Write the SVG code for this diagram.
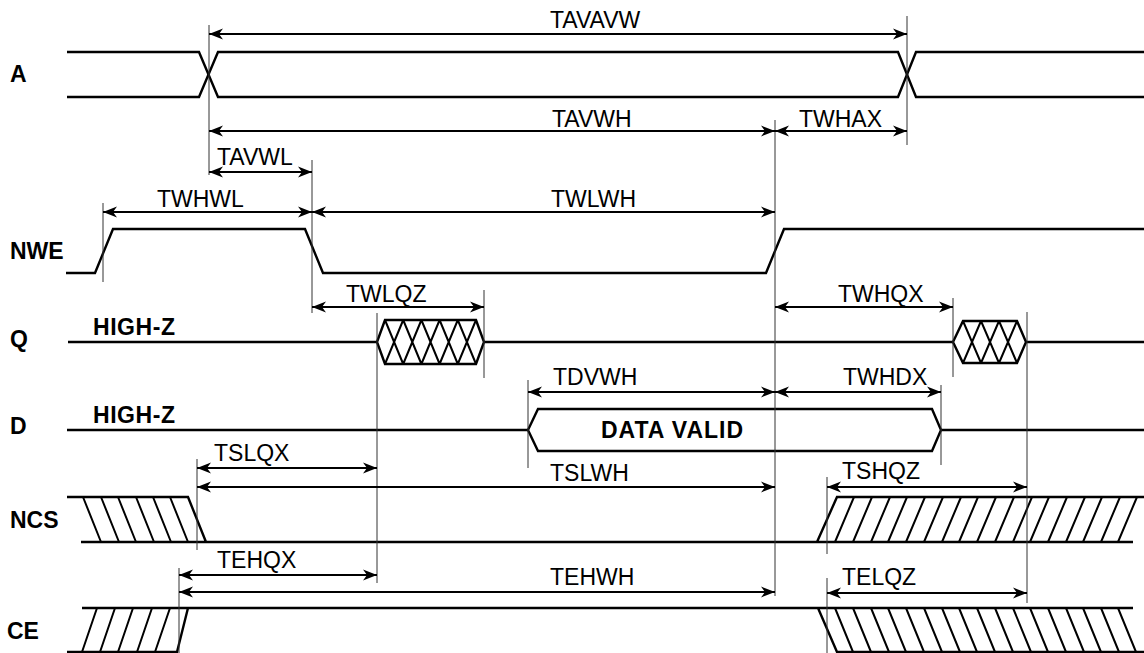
<svg xmlns="http://www.w3.org/2000/svg" width="1144" height="653" viewBox="0 0 1144 653">
<style>
.sig{fill:none;stroke:#000;stroke-width:2.4;stroke-linejoin:miter}
.hat{fill:none;stroke:#000;stroke-width:2}
.ref{fill:none;stroke:#333;stroke-width:1}
.dim{fill:none;stroke:#000;stroke-width:2;marker-start:url(#ah);marker-end:url(#ah)}
.lbl{font-family:"Liberation Sans",Arial,sans-serif;font-size:23px;fill:#000}
.name{font-family:"Liberation Sans",Arial,sans-serif;font-size:23px;font-weight:bold;fill:#000}
</style>
<defs>
<marker id="ah" viewBox="-15 -6 16 12" refX="0" refY="0" markerWidth="16" markerHeight="12" markerUnits="userSpaceOnUse" orient="auto-start-reverse">
<path d="M0,0 L-14,-5.5 L-10,0 L-14,5.5 Z" fill="#000"/>
</marker>
</defs>
<rect width="1144" height="653" fill="#fff"/>

<g id="sig-A">
<text class="name" x="10" y="82">A</text>
<path class="sig" d="M67,52 L199,52 L218,97 L898,97 L916,52 L1144,52"/>
<path class="sig" d="M67,97 L199,97 L218,52 L898,52 L916,97 L1144,97"/>
</g>

<g id="sig-NWE">
<text class="name" x="10" y="259">NWE</text>
<path class="sig" d="M66,273 L95,273 L113,229 L305,229 L323,273 L766,273 L784,229 L1144,229"/>
</g>

<g id="sig-Q">
<text class="name" x="10" y="347">Q</text>
<text class="name" x="93" y="335" textLength="82">HIGH-Z</text>
<path class="sig" d="M68,342 L377,342 M484,342 L953,342 M1026,342 L1144,342"/>
<path class="sig" d="M377,342 L385,320 L476,320 L484,342 L476,364 L385,364 Z"/>
<path class="hat" d="M385,320 L403.2,364 M403.2,320 L421.4,364 M421.4,320 L439.6,364 M439.6,320 L457.8,364 M457.8,320 L476,364 M385,364 L403.2,320 M403.2,364 L421.4,320 M421.4,364 L439.6,320 M439.6,364 L457.8,320 M457.8,364 L476,320"/>
<path class="sig" d="M953,342 L963,321 L1017,321 L1026,342 L1017,363 L963,363 Z"/>
<path class="hat" d="M963,321 L981,363 M981,321 L999,363 M999,321 L1017,363 M963,363 L981,321 M981,363 L999,321 M999,363 L1017,321"/>
</g>

<g id="sig-D">
<text class="name" x="10" y="434">D</text>
<text class="name" x="93" y="423" textLength="82">HIGH-Z</text>
<path class="sig" d="M67,430 L528,430 M941,430 L1144,430"/>
<path class="sig" d="M528,430 L538,409 L932,409 L941,430 L932,451 L538,451 Z"/>
<text class="name" x="601" y="438" font-size="22.5" textLength="142">DATA VALID</text>
</g>

<g id="sig-NCS">
<text class="name" x="10" y="528">NCS</text>
<path class="sig" d="M67,497 L188,497 L206,542 M81,542 L1133,542 M817,542 L837,497 L1144,497"/>
<path class="hat" d="M83,497 L101,542 M101,497 L119,542 M118,497 L136,542 M136,497 L154,542 M153,497 L171,542 M170,497 L188,542"/>
<path class="hat" d="M835,542 L854,497 M853,542 L872,497 M871,542 L890,497 M888,542 L907,497 M906,542 L925,497 M924,542 L943,497 M942,542 L961,497 M959,542 L978,497 M977,542 L996,497 M995,542 L1014,497 M1013,542 L1032,497 M1030,542 L1049,497 M1048,542 L1067,497 M1066,542 L1085,497 M1083,542 L1102,497 M1101,542 L1120,497 M1118,542 L1137,497"/>
</g>

<g id="sig-CE">
<text class="name" x="7" y="639">CE</text>
<path class="sig" d="M67,652 L177,652 L188,608 M82,608 L1133,608 M818,608 L837,652 L1144,652"/>
<path class="hat" d="M82,652 L97,608 M100,652 L115,608 M118,652 L133,608 M137,652 L152,608 M155,652 L170,608"/>
<path class="hat" d="M835,608 L853,652 M853,608 L871,652 M871,608 L889,652 M888,608 L906,652 M906,608 L924,652 M924,608 L942,652 M942,608 L960,652 M959,608 L977,652 M977,608 L995,652 M995,608 L1013,652 M1013,608 L1031,652 M1030,608 L1048,652 M1048,608 L1066,652 M1066,608 L1084,652 M1083,608 L1101,652 M1101,608 L1119,652 M1118,608 L1136,652"/>
</g>

<g id="connectors">
<path class="ref" d="M209,25 V175 M907,16 V145 M775,120 V596 M312,160 V313 M103,203 V282 M377,313 V583 M484,290 V378 M953,298 V377 M1027,312 V603 M528,380 V468 M941,385 V465 M197,459 V550 M827,477 V554 M827,578 V653 M179,568 V653"/>
<path class="dim" d="M209,34 H907"/>
<path class="dim" d="M209,131 H775"/>
<path class="dim" d="M775,131 H907"/>
<path class="dim" d="M209,172 H312"/>
<path class="dim" d="M103,212 H312"/>
<path class="dim" d="M312,212 H775"/>
<path class="dim" d="M312,307 H484"/>
<path class="dim" d="M775,307 H953"/>
<path class="dim" d="M528,392 H775"/>
<path class="dim" d="M775,392 H941"/>
<path class="dim" d="M197,468 H377"/>
<path class="dim" d="M197,487 H775"/>
<path class="dim" d="M827,487 H1027"/>
<path class="dim" d="M179,575 H377"/>
<path class="dim" d="M179,592 H775"/>
<path class="dim" d="M827,593 H1027"/>
<text class="lbl" x="550" y="28">TAVAVW</text>
<text class="lbl" x="552" y="127">TAVWH</text>
<text class="lbl" x="799" y="127">TWHAX</text>
<text class="lbl" x="217" y="165">TAVWL</text>
<text class="lbl" x="157" y="207">TWHWL</text>
<text class="lbl" x="551" y="207">TWLWH</text>
<text class="lbl" x="346" y="302">TWLQZ</text>
<text class="lbl" x="838" y="302">TWHQX</text>
<text class="lbl" x="553" y="385">TDVWH</text>
<text class="lbl" x="843" y="385">TWHDX</text>
<text class="lbl" x="214" y="461">TSLQX</text>
<text class="lbl" x="550" y="481">TSLWH</text>
<text class="lbl" x="842" y="479">TSHQZ</text>
<text class="lbl" x="217" y="568">TEHQX</text>
<text class="lbl" x="550" y="585">TEHWH</text>
<text class="lbl" x="842" y="585">TELQZ</text>
</g>
</svg>
